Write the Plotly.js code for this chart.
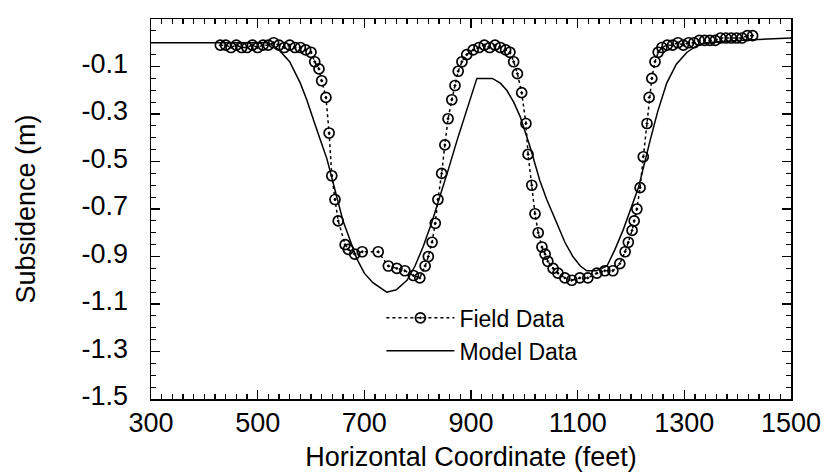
<!DOCTYPE html>
<html>
<head>
<meta charset="utf-8">
<script src="https://cdn.plot.ly/plotly-3.0.1.min.js"></script>
<style>html,body{margin:0;padding:0;background:#fff;}#chart{width:826px;height:475px;}</style>
</head>
<body>
<div id="chart"></div>
<script>
// Field data (measured subsidence, m) vs horizontal coordinate (feet)
var fieldX = [430, 440, 450, 460, 470, 480, 490, 500, 510, 520, 530, 540, 550, 560, 570, 580, 590,
  600, 607, 615, 620, 628, 634, 639, 645, 651, 664, 670, 682, 696, 726, 745, 761, 776, 792, 804,
  814, 820, 827, 833, 838, 845, 851, 857, 864, 870, 876, 883, 892, 904, 915, 925, 935, 945, 955, 965,
  973, 980, 987, 995, 1003, 1007, 1014, 1020, 1026, 1033, 1039, 1044, 1054, 1063, 1076, 1089, 1104,
  1119, 1136, 1151, 1166, 1179, 1189, 1195, 1202, 1206, 1211, 1217, 1223, 1230, 1234, 1239, 1245,
  1251, 1258, 1268, 1278, 1288, 1298, 1308, 1318, 1328, 1338, 1348, 1358, 1368, 1378, 1388, 1398,
  1408, 1418, 1428];
var fieldY = [-0.01, -0.01, -0.02, -0.01, -0.02, -0.02, -0.01, -0.02, -0.01, -0.01, 0.00, -0.01, -0.02, -0.01, -0.02, -0.02, -0.03,
  -0.04, -0.08, -0.11, -0.16, -0.23, -0.38, -0.56, -0.66, -0.75, -0.85, -0.87, -0.89, -0.88, -0.88, -0.94, -0.95, -0.96, -0.98, -0.99,
  -0.94, -0.90, -0.84, -0.76, -0.66, -0.55, -0.43, -0.32, -0.24, -0.18, -0.12, -0.08, -0.05, -0.03, -0.02, -0.01, -0.02, -0.01, -0.02, -0.03,
  -0.04, -0.08, -0.13, -0.21, -0.34, -0.47, -0.60, -0.72, -0.80, -0.86, -0.89, -0.92, -0.95, -0.97, -0.99, -1.00, -0.99,
  -0.99, -0.97, -0.96, -0.96, -0.93, -0.88, -0.84, -0.79, -0.75, -0.70, -0.61, -0.48, -0.34, -0.23, -0.15, -0.08,
  -0.04, -0.02, -0.01, -0.01, 0.00, -0.01, 0.00, 0.00, 0.01, 0.01, 0.01, 0.01, 0.02, 0.02, 0.02, 0.02,
  0.02, 0.03, 0.03];

// Model data
var modelX = [300, 520, 540, 560, 580, 592, 610, 630, 645, 660, 686, 700, 716, 742, 760, 780, 795, 810, 826, 842,
  858, 874, 892, 911, 940, 955, 967, 980, 992, 1011, 1029, 1042, 1061, 1076, 1091, 1105, 1117, 1135, 1155,
  1170, 1185, 1200, 1214, 1236, 1250, 1267, 1285, 1305, 1325, 1342, 1400, 1500];
var modelY = [0.00, 0.00, -0.03, -0.08, -0.17, -0.24, -0.36, -0.49, -0.62, -0.75, -0.91, -0.97, -1.01, -1.05, -1.04, -1.00, -0.94, -0.86, -0.76, -0.65,
  -0.53, -0.41, -0.28, -0.15, -0.15, -0.17, -0.20, -0.25, -0.31, -0.44, -0.58, -0.66, -0.76, -0.84, -0.90, -0.94, -0.96, -0.96, -0.94,
  -0.87, -0.79, -0.70, -0.61, -0.41, -0.29, -0.17, -0.09, -0.04, -0.01, 0.00, 0.01, 0.02];

var yTickVals = [-0.1, -0.3, -0.5, -0.7, -0.9, -1.1, -1.3, -1.5];
var yTickText = ['-0.1', '-0.3', '-0.5', '-0.7', '-0.9', '-1.1', '-1.3', '-1.5'];

var font = 'Liberation Sans, Arial, Helvetica, sans-serif';

var traces = [
  {
    x: fieldX, y: fieldY, name: 'Field Data', type: 'scatter', mode: 'lines+markers',
    line: {color: '#000', width: 1.5, dash: 'dot'},
    marker: {symbol: 'circle-open-dot', size: 10, color: '#000', line: {color: '#000', width: 1.7}}
  },
  {
    x: modelX, y: modelY, name: 'Model Data', type: 'scatter', mode: 'lines',
    line: {color: '#000', width: 1.5}
  }
];

var layout = {
  width: 826, height: 475,
  margin: {l: 151, r: 35, t: 19, b: 76},
  paper_bgcolor: '#fff', plot_bgcolor: '#fff',
  font: {family: font, color: '#000', size: 26},
  showlegend: true,
  legend: {
    x: 0.36, y: 0.27, xanchor: 'left', yanchor: 'top',
    bgcolor: 'rgba(0,0,0,0)', borderwidth: 0,
    font: {family: font, size: 23, color: '#000'},
    itemwidth: 68, tracegroupgap: 0
  },
  xaxis: {
    range: [300, 1500], tickmode: 'linear', tick0: 300, dtick: 200,
    ticks: 'inside', ticklen: 9, tickwidth: 1.5, tickcolor: '#000',
    showline: true, linecolor: '#000', linewidth: 1.5, mirror: 'allticks',
    showgrid: false, zeroline: false,
    tickfont: {family: font, size: 27, color: '#000'},
    ticklabelstandoff: -1,
    minor: {tick0: 300, dtick: 20, ticks: 'inside', ticklen: 5, tickcolor: '#000', tickwidth: 1.2, showgrid: false},
    title: {text: 'Horizontal Coordinate (feet)', font: {family: font, size: 27, color: '#000'}, standoff: 10}
  },
  yaxis: {
    range: [-1.5, 0.1], tickmode: 'array', tickvals: yTickVals, ticktext: yTickText,
    ticks: 'inside', ticklen: 9, tickwidth: 1.5, tickcolor: '#000',
    showline: true, linecolor: '#000', linewidth: 1.5, mirror: 'allticks',
    showgrid: false, zeroline: false,
    tickfont: {family: font, size: 27, color: '#000'},
    ticklabelstandoff: 16, ticklabelshift: -3,
    minor: {tickmode: 'linear', tick0: -0.1, dtick: 0.05, ticks: 'inside', ticklen: 5, tickcolor: '#000', tickwidth: 1.2, showgrid: false},
    title: {text: 'Subsidence (m)', font: {family: font, size: 27, color: '#000'}, standoff: 38}
  }
};

Plotly.newPlot('chart', traces, layout, {displayModeBar: false, staticPlot: true});
</script>
</body>
</html>
